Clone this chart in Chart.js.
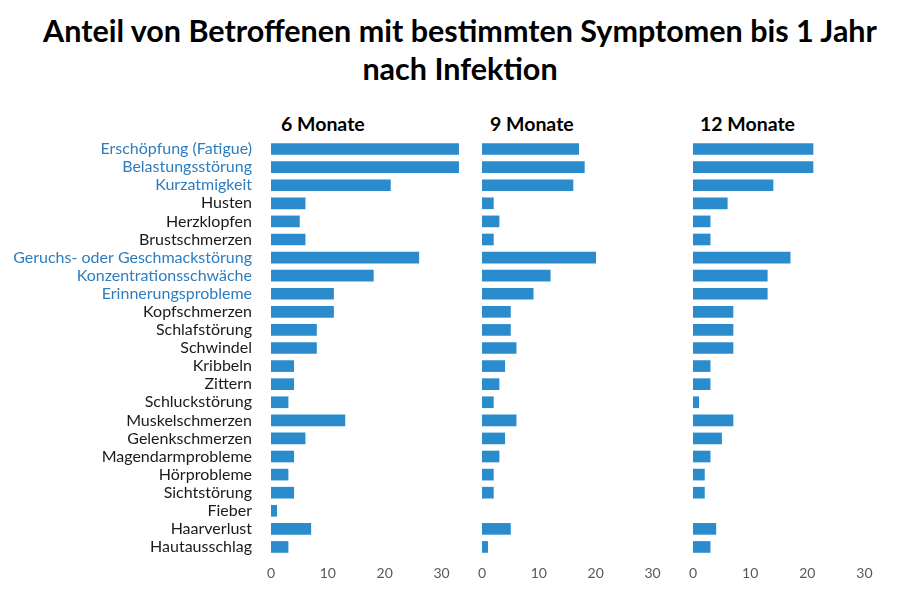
<!DOCTYPE html>
<html>
<head>
<meta charset="utf-8">
<script src="https://cdn.jsdelivr.net/npm/chart.js@4"></script>
<style>
  html, body { margin: 0; padding: 0; background: #fff; overflow: hidden; }
  body { width: 900px; height: 590px; position: relative; font-family: Lato, "Open Sans", sans-serif; }
  h1 { position: absolute; left: 20px; top: 11px; width: 880px; margin: 0; text-align: center;
       font-size: 30.5px; line-height: 38px; font-weight: 700; color: #000; }
  .panelTitle { position: absolute; top: 112px; font-size: 19.5px; font-weight: 700; color: #000; }
  .box { position: absolute; top: 140px; height: 446px; }
</style>
</head>
<body>
<h1>Anteil von Betroffenen mit bestimmten Symptomen bis 1 Jahr<br>nach Infektion</h1>

<div class="panelTitle" style="left:281px">6 Monate</div>
<div class="panelTitle" style="left:490px">9 Monate</div>
<div class="panelTitle" style="left:700px">12 Monate</div>

<div class="box" style="left:0; width:471px"><canvas id="c6"></canvas></div>
<div class="box" style="left:472px; width:220px"><canvas id="c9"></canvas></div>
<div class="box" style="left:683px; width:211px"><canvas id="c12"></canvas></div>

<script>
const symptoms = [
  'Erschöpfung (Fatigue)', 'Belastungsstörung', 'Kurzatmigkeit', 'Husten', 'Herzklopfen',
  'Brustschmerzen', 'Geruchs- oder Geschmackstörung', 'Konzentrationsschwäche',
  'Erinnerungsprobleme', 'Kopfschmerzen', 'Schlafstörung', 'Schwindel', 'Kribbeln',
  'Zittern', 'Schluckstörung', 'Muskelschmerzen', 'Gelenkschmerzen', 'Magendarmprobleme',
  'Hörprobleme', 'Sichtstörung', 'Fieber', 'Haarverlust', 'Hautausschlag'
];
// highlighted labels are drawn in blue
const highlighted = [
  'Erschöpfung (Fatigue)', 'Belastungsstörung', 'Kurzatmigkeit',
  'Geruchs- oder Geschmackstörung', 'Konzentrationsschwäche', 'Erinnerungsprobleme'
];

// null = no bar shown in the source
const months6  = [33, 33, 21, 6, 5, 6, 26, 18, 11, 11, 8, 8, 4, 4, 3, 13, 6, 4, 3, 4, 1, 7, 3];
const months9  = [17, 18, 16, 2, 3, 2, 20, 12, 9, 5, 5, 6, 4, 3, 2, 6, 4, 3, 2, 2, null, 5, 1];
const months12 = [21, 21, 14, 6, 3, 3, 17, 13, 13, 7, 7, 7, 3, 3, 1, 7, 5, 3, 2, 2, null, 4, 3];

const xTicks = [0, 10, 20, 30];

const barColor = '#2b8ccd';
const blue = '#2e7dbf';

function makeChart(id, values, showLabels, pad) {
  const ctx = document.getElementById(id).getContext('2d');
  return new Chart(ctx, {
    type: 'bar',
    data: {
      labels: symptoms,
      datasets: [{
        data: values,
        backgroundColor: barColor,
        borderWidth: 0,
        barThickness: 11
      }]
    },
    options: {
      indexAxis: 'y',
      responsive: true,
      maintainAspectRatio: false,
      animation: false,
      layout: { padding: pad },
      scales: {
        x: {
          min: 0,
          max: 35,
          grid: { display: false, drawTicks: false },
          border: { display: false },
          afterBuildTicks: (axis) => { axis.ticks = xTicks.map(v => ({ value: v })); },
          afterFit: (axis) => {
            axis.height = 30;
            axis.paddingLeft = 0;
            axis.paddingRight = 0;
          },
          ticks: {
            color: '#595959',
            font: { family: 'Lato', size: 14 },
            padding: 9
          }
        },
        y: {
          display: showLabels,
          grid: { display: false, drawTicks: false },
          border: { display: false },
          afterFit: (axis) => {
            if (!showLabels) return;
            axis.width = 271;
            axis.paddingTop = 0;
            axis.paddingBottom = 0;
          },
          ticks: {
            autoSkip: false,
            padding: 19,
            font: { family: 'Lato', size: 16 },
            color: (c) => highlighted.includes(symptoms[c.index]) ? blue : '#1a1a1a'
          }
        }
      },
      plugins: {
        legend: { display: false },
        tooltip: { enabled: false }
      }
    }
  });
}

makeChart('c6', months6, true, { left: 0, right: 1, top: 0, bottom: 0 });
makeChart('c9', months9, false, { left: 10, right: 11, top: 0, bottom: 0 });
makeChart('c12', months12, false, { left: 10, right: 1, top: 0, bottom: 0 });
</script>
</body>
</html>
